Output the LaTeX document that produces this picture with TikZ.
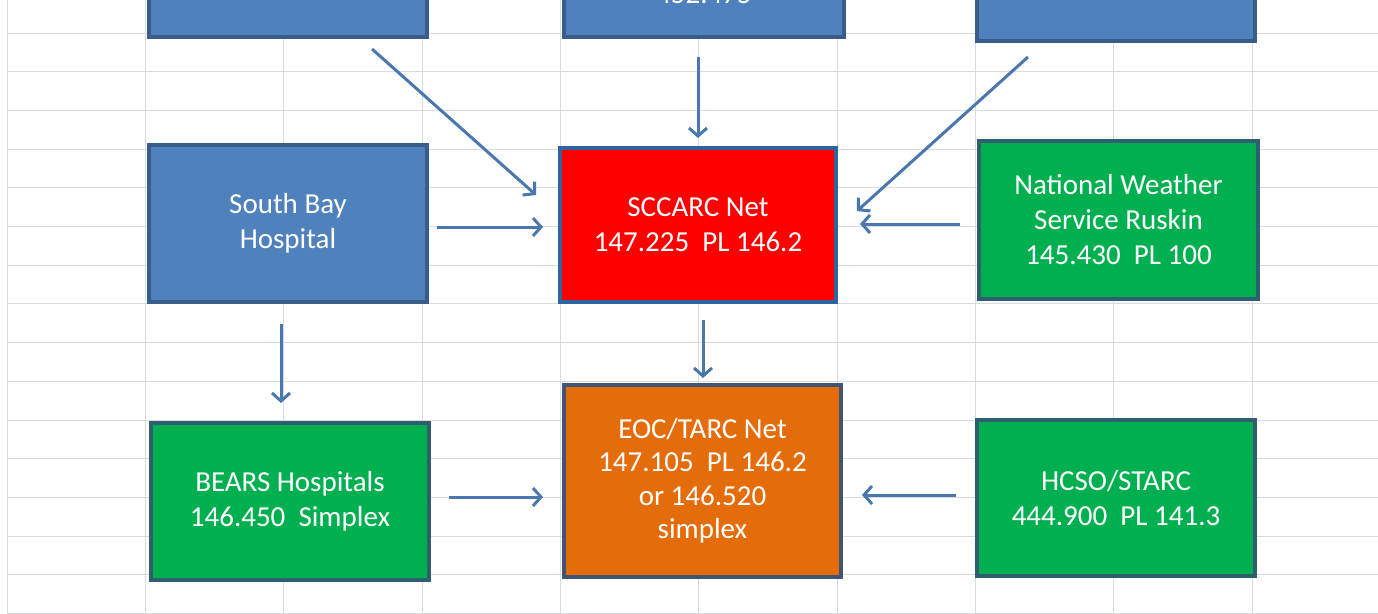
\documentclass[tikz,border=0pt]{standalone}
\usepackage{fontspec}
\setmainfont{Carlito}
\usetikzlibrary{arrows.meta,calc}
\definecolor{gridc}{HTML}{D8DBE2}
\definecolor{bfill}{HTML}{4F81BD}
\definecolor{bdraw}{HTML}{385D8A}
\definecolor{gfill}{HTML}{00B050}
\definecolor{gdraw}{HTML}{2E5F6E}
\definecolor{ofill}{HTML}{E46C0A}
\definecolor{odraw}{HTML}{3F5573}
\definecolor{rfill}{HTML}{FF0000}
\definecolor{rdraw}{HTML}{2F64A0}
\definecolor{arrc}{HTML}{4A78AE}
\begin{document}
\begin{tikzpicture}[x=1pt,y=-1pt,
  box/.style={rectangle, line width=4pt, text=white, align=center,
    font=\fontsize{29}{35}\selectfont, inner sep=0pt},
  bluebox/.style={box, fill=bfill, draw=bdraw},
  greenbox/.style={box, fill=gfill, draw=gdraw},
  redbox/.style={box, fill=rfill, draw=rdraw},
  orangebox/.style={box, fill=ofill, draw=odraw},
  gridline/.style={draw=gridc, line width=1pt},
  arr/.style={draw=arrc, line width=3pt, -{Straight Barb[length=8pt,width=18pt]}}]
\useasboundingbox (0,0) rectangle (1378,613);
\clip (0,0) rectangle (1378,613);
\fill[white] (0,0) rectangle (1378,613);
\foreach \i in {0,...,9} \draw[gridline] ({7+138.35*\i},0) -- ({7+138.35*\i},613);
\foreach \j in {0,...,15} \draw[gridline] (7,{33+38.7*\j}) -- (1378,{33+38.7*\j});

\node[bluebox, minimum width=278pt, minimum height=154pt] (tl) at (288,-40) {};
\node[bluebox, minimum width=280pt, minimum height=154pt] (tc) at (704,-40) {};
\node[bluebox, minimum width=278pt, minimum height=154pt] (tr) at (1116,-36) {};
\node[anchor=base, text=white, font=\fontsize{29}{35}\selectfont, inner sep=0pt] (tctext) at (704,4) {452.475};

\node[bluebox, minimum width=278pt, minimum height=157pt] (sb) at (288,223.5) {South Bay\\Hospital};
\node[redbox, minimum width=276pt, minimum height=154pt] (sc) at (698,225) {SCCARC Net\\147.225\ \ PL 146.2};
\node[greenbox, minimum width=279pt, minimum height=158pt] (nws) at (1118.5,220) {National Weather\\Service Ruskin\\145.430\ \ PL 100};
\node[greenbox, minimum width=278pt, minimum height=157pt] (bears) at (290,501.5) {BEARS Hospitals\\146.450\ \ Simplex};
\node[orangebox, minimum width=277pt, minimum height=192pt, font=\fontsize{29}{33.5}\selectfont] (eoc) at (702.5,481) {EOC/TARC Net\\147.105\ \ PL 146.2\\or 146.520\\simplex};
\node[greenbox, minimum width=278pt, minimum height=156pt] (hcso) at (1116,498) {HCSO/STARC\\444.900\ \ PL 141.3};

\draw[arr] ($(tl.south east)+(-57,10)$) -- ($(sc.north west)+(-22,49)$);
\draw[arr] ($(tc.south)+(-6,18)$) -- ($(sc.north)+(0,-8)$);
\draw[arr] ($(tr.south west)+(53,14)$) -- ($(sc.north east)+(19,65)$);
\draw[arr] ($(sb.east)+(8,3.5)$) -- ($(sc.west)+(-15,2)$);
\draw[arr] ($(nws.west)+(-17,4)$) -- ($(sc.east)+(22,-1)$);
\draw[arr] ($(sc.south)+(5,16)$) -- ($(eoc.north)+(0.5,-5)$);
\draw[arr] ($(sb.south)+(-7,20)$) -- ($(bears.north)+(-9,-18)$);
\draw[arr] ($(bears.east)+(18,-4.5)$) -- ($(eoc.west)+(-19,16)$);
\draw[arr] ($(hcso.west)+(-19,-3)$) -- ($(eoc.east)+(19,14)$);
\end{tikzpicture}
\end{document}
